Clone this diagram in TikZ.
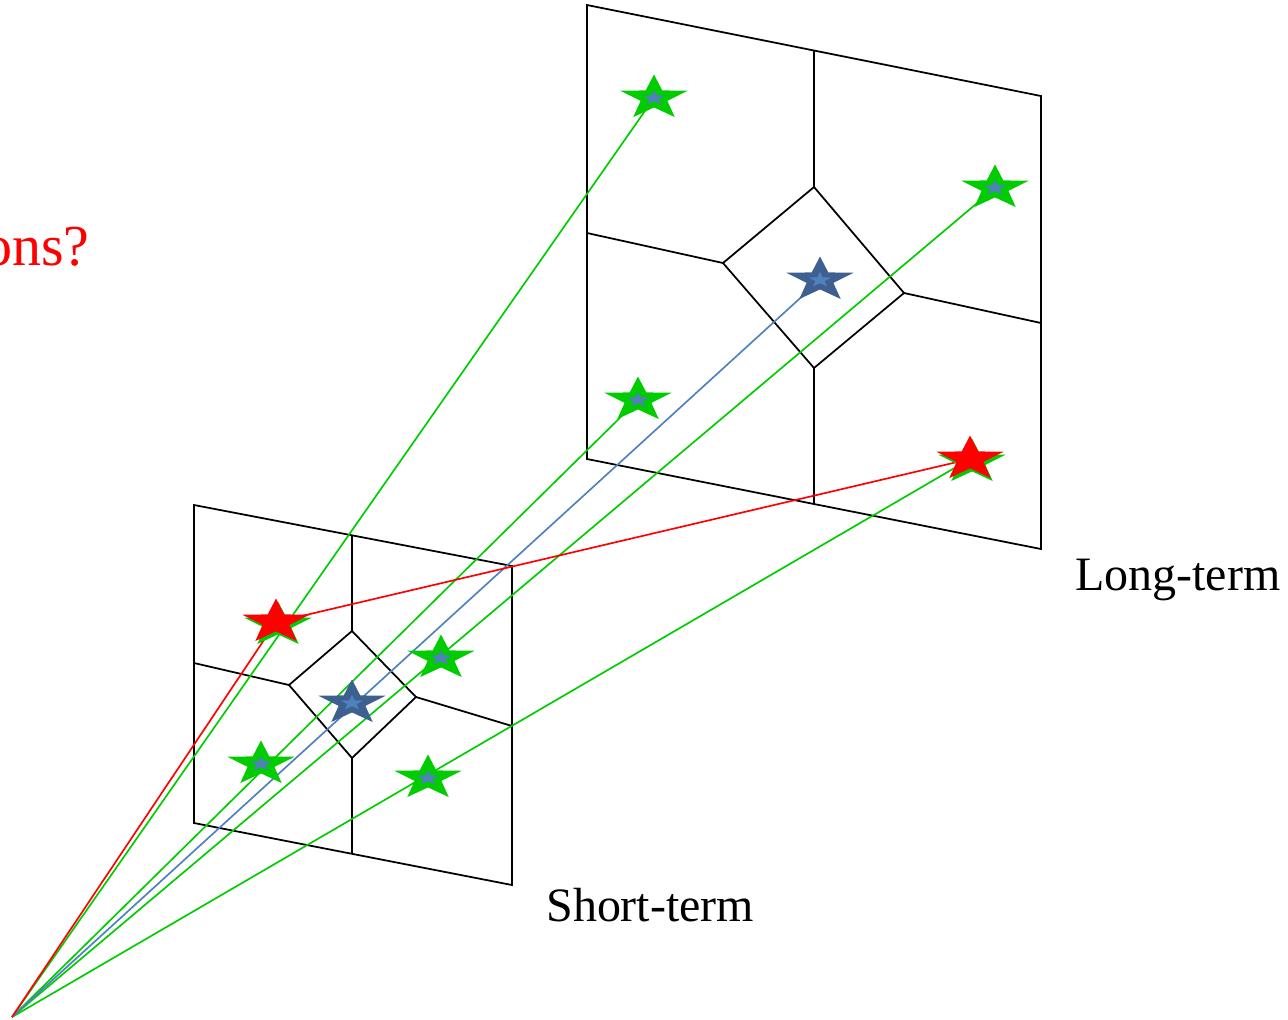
\documentclass[tikz,border=0pt]{standalone}
\usepackage{fontspec}
\setmainfont{Liberation Serif}
\usetikzlibrary{positioning,shapes.geometric}
\definecolor{ptgreen}{RGB}{0,204,0}
\definecolor{ptblue}{RGB}{79,129,189}
\definecolor{ptdark}{RGB}{62,96,145}

\begin{document}
\begin{tikzpicture}[x=0.02cm,y=-0.02cm,
    cell/.style={draw=black,line width=1pt},
    ray/.style={line width=0.95pt},
    pt/.style={star,star points=5,star point ratio=2.5,inner sep=0pt,draw=none,minimum size=0.94cm,xscale=1.5},
    ptin/.style={pt,minimum size=0.32cm,fill=ptblue},
    gpt/.style={pt,fill=ptgreen},
    bpt/.style={pt,fill=ptdark},
    rpt/.style={pt,fill=red},
    lbl/.style={font=\fontsize{27.3}{32}\selectfont,inner sep=0pt,anchor=base west}]
  \useasboundingbox (0,0) rectangle (1288,1019);
  % long-term panel
  \coordinate (LA) at (587,5);   \coordinate (LB) at (1041,96);
  \coordinate (LC) at (1041,549); \coordinate (LD) at (587,459);
  \coordinate (Lt) at (814,187); \coordinate (Lr) at (904,293);
  \coordinate (Lb) at (814,368); \coordinate (Ll) at (723,263);
  \draw[cell] (LA)--(LB)--(LC)--(LD)--cycle;
  \draw[cell] (Lt)--(Lr)--(Lb)--(Ll)--cycle;
  \draw[cell] (Lt)--(814,51);  \draw[cell] (Lb)--(814,504);
  \draw[cell] (Ll)--(587,233); \draw[cell] (Lr)--(1041,323);
  % short-term panel
  \coordinate (SA) at (194,505); \coordinate (SB) at (512,566);
  \coordinate (SC) at (512,885); \coordinate (SD) at (194,823);
  \coordinate (St) at (352,631); \coordinate (Sr) at (416,697);
  \coordinate (Sb) at (352,758); \coordinate (Sl) at (289,685);
  \draw[cell] (SA)--(SB)--(SC)--(SD)--cycle;
  \draw[cell] (St)--(Sr)--(Sb)--(Sl)--cycle;
  \draw[cell] (St)--(352,536); \draw[cell] (Sb)--(352,854);
  \draw[cell] (Sl)--(194,663); \draw[cell] (Sr)--(512,726);

  \coordinate (eye) at (12,1017);
  \coordinate (lg1) at (654,98);  \coordinate (lg2) at (995,188);
  \coordinate (lb) at (820,280);  \coordinate (lg3) at (638,400);
  \coordinate (lr) at (970,459);
  \coordinate (sr) at (276,622);  \coordinate (sg1) at (441,658);
  \coordinate (sb) at (352,703);  \coordinate (sg2) at (261,764);
  \coordinate (sg3) at (428,778);

  \draw[ray,ptgreen] (eye) -- (lg1);
  \draw[ray,ptgreen] (eye) -- (lg2);
  \draw[ray,ptgreen] (eye) -- (lg3);
  \draw[ray,ptgreen] (eye) -- (lr);
  \draw[ray,ptblue] (eye) -- (lb);
  \draw[ray,red] (eye) -- (sr) -- (lr);

  \foreach \p in {lg1,lg2,lg3,sg1,sg2,sg3} {
    \node[gpt] (\p s) at (\p) {};
    \node[ptin] (\p i) at (\p) {};
  }
  \foreach \p in {lb,sb} {
    \node[bpt] (\p s) at (\p) {};
    \node[ptin] (\p i) at (\p) {};
  }
  \foreach \p in {lr,sr} {
    \node[gpt] (\p g) at ([shift={(2,3)}]\p) {};
    \node[rpt] (\p s) at (\p) {};
  }

  \node[lbl] (long) at (1075,590) {Long-term};
  \node[lbl] (short) at (546,921) {Short-term};
  \node[font=\fontsize{33}{38}\selectfont,text=red,inner sep=0pt,anchor=base east] (q) at (90,265) {ons?};
\end{tikzpicture}
\end{document}
